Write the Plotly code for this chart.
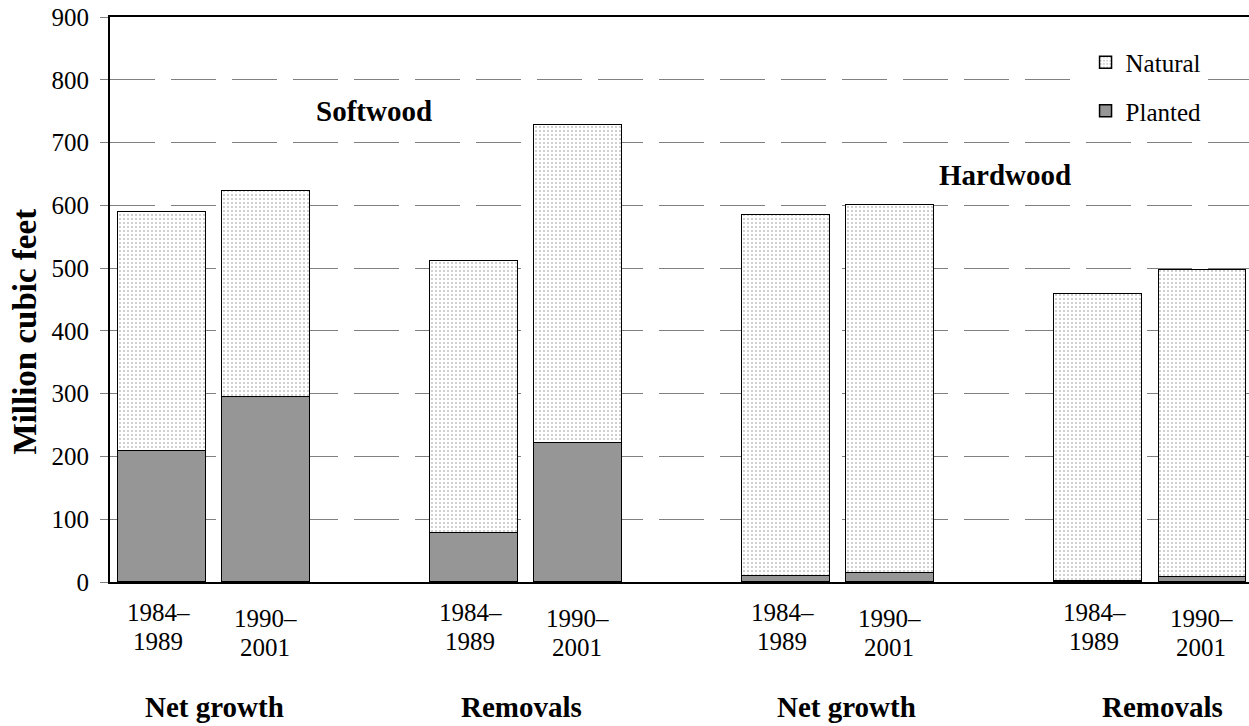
import plotly.graph_objects as go

# ---- data ----
positions = [0, 1, 3, 4, 6, 7, 9, 10]
period_line1 = ["1984–", "1990–"] * 4
period_line2 = ["1989", "2001"] * 4
planted = [208, 295, 78, 221, 10, 14, 2, 8]
total = [590, 623, 511, 728, 584, 600, 459, 497]
natural = [t - p for t, p in zip(total, planted)]
group_labels = ["Net growth", "Removals", "Net growth", "Removals"]
group_positions = [0.5, 3.5, 6.5, 9.5]
group_label_shift = [0, -5, 8, 12]  # pixel nudges as in the original
wood_labels = ["Softwood", "Hardwood"]
wood_x = [2.04, 8.1]
wood_y = [750, 648]
y_ticks = list(range(0, 901, 100))

FONT = "Liberation Serif"

fig = go.Figure()
fig.add_trace(go.Bar(
    x=positions, y=planted, name="Planted", width=0.84,
    marker=dict(color="#969696", line=dict(color="black", width=1.5)),
    legendgroup="p", legendrank=2,
))
fig.add_trace(go.Bar(
    x=positions, y=natural, name="Natural", width=0.84,
    marker=dict(color="white", line=dict(color="black", width=1.5),
                pattern=dict(shape=".", fgcolor="#8a8a8a", bgcolor="white",
                             size=4, solidity=0.22)),
    legendgroup="n", legendrank=1,
))

annotations = []
# category (period) labels, second bar of each pair slightly lower
for i, (pos, l1, l2) in enumerate(zip(positions, period_line1, period_line2)):
    off = 0 if i % 2 == 0 else 6
    xs = -4 if i % 2 == 0 else -1
    annotations.append(dict(x=pos, y=0, xref="x", yref="paper", text=l1,
                            showarrow=False, yanchor="middle", xshift=xs,
                            yshift=-(612 - 582 + off), font=dict(family=FONT, size=25, color="black")))
    annotations.append(dict(x=pos, y=0, xref="x", yref="paper", text=l2,
                            showarrow=False, yanchor="middle", xshift=xs,
                            yshift=-(641 - 582 + off), font=dict(family=FONT, size=25, color="black")))
for gp, lab, sh in zip(group_positions, group_labels, group_label_shift):
    annotations.append(dict(x=gp, y=0, xref="x", yref="paper", text="<b>" + lab + "</b>",
                            showarrow=False, yanchor="middle", xshift=sh,
                            yshift=-(707 - 582), font=dict(family=FONT, size=29, color="black")))
for lab, wx, wy in zip(wood_labels, wood_x, wood_y):
    annotations.append(dict(x=wx, y=wy, xref="x", yref="y", text="<b>" + lab + "</b>",
                            showarrow=False, font=dict(family=FONT, size=29, color="black")))
annotations.append(dict(x=0, y=0.5, xref="paper", yref="paper", text="<b>Million cubic feet</b>",
                        textangle=-90, showarrow=False, xanchor="center", xshift=-86, yshift=-32,
                        borderpad=0,
                        font=dict(family=FONT, size=33, color="black")))

fig.update_layout(
    width=1249, height=726,
    margin=dict(l=110, r=0, t=17, b=144, autoexpand=False),
    barmode="stack",
    plot_bgcolor="white", paper_bgcolor="white",
    font=dict(family=FONT, size=25, color="black"),
    showlegend=True,
    legend=dict(x=0.8565, y=0.960, xanchor="left", yanchor="top",
                traceorder="grouped", tracegroupgap=13,
                bgcolor="white", font=dict(family=FONT, size=25, color="black"),
                itemclick=False),
    annotations=annotations,
    bargap=0,
)
fig.update_xaxes(range=[-0.5, 10.45], showticklabels=False, ticks="",
                 showgrid=False, zeroline=False, automargin=False,
                 showline=True, mirror=True, linecolor="black", linewidth=2)
fig.update_yaxes(range=[0, 900], tickvals=y_ticks, showgrid=True, gridcolor="#808080",
                 gridwidth=1, griddash="45px,16px", zeroline=False, automargin=False,
                 ticks="outside", ticklen=8, tickcolor="#808080", tickwidth=1,
                 ticklabelstandoff=6, ticklabeloverflow="allow",
                 tickfont=dict(family=FONT, size=25, color="black"),
                 showline=True, linecolor="black", linewidth=2)

# drop the browser's default 8px page margin so the figure fills the window exactly
fig.write_html("out.html", config={"displayModeBar": False},
               post_script="document.body.style.margin='0';")
